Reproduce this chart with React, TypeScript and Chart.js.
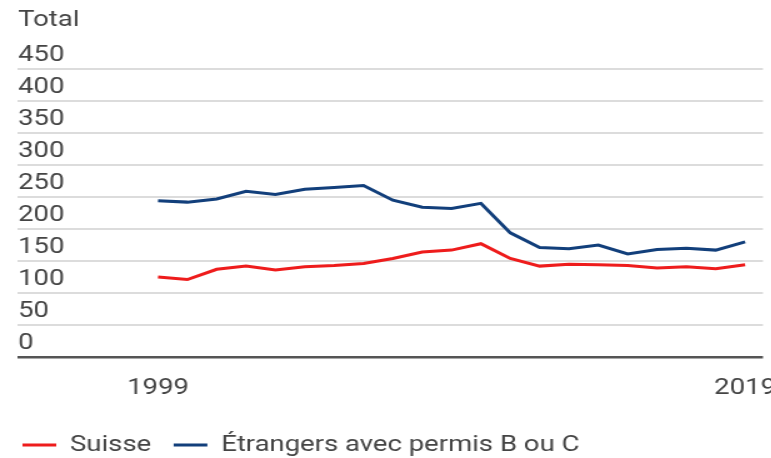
import React, { useEffect, useRef } from "react";
import { Chart, registerables } from "chart.js";

Chart.register(...registerables);

// ---- data ----
const years = [1999, 2000, 2001, 2002, 2003, 2004, 2005, 2006, 2007, 2008, 2009, 2010, 2011, 2012, 2013, 2014, 2015, 2016, 2017, 2018, 2019];
const suisse = [125, 121, 137, 142, 136, 141, 143, 146, 154, 164, 167, 177, 154, 142, 145, 144, 143, 139, 141, 138, 144];
const etrangers = [244, 242, 247, 259, 254, 262, 265, 268, 245, 234, 232, 240, 194, 171, 169, 175, 161, 168, 170, 167, 180];
const xTickYears = [1999, 2019];
const yTickValues = [0, 50, 100, 150, 200, 250, 300, 350, 400, 450];
const seriesLabels = ["Suisse", "Étrangers avec permis B ou C"];
const axisTitle = "Total";

const RED = "#ee1c1c";
const BLUE = "#123f7b";
const TEXT = "#444444";

// horizontal stretch of the reference picture
const S = 1.25;
const W = 650;
const H = 466;
const AREA_LEFT = 18 / S;
const AREA_RIGHT = 763 / S;

export default function App() {
  const ref = useRef<HTMLCanvasElement>(null);

  useEffect(() => {
    if (!ref.current) return;
    const font = { family: "Roboto", size: 22, weight: "normal" as const };
    const chart = new Chart(ref.current, {
      type: "line",
      data: {
        datasets: [
          {
            label: seriesLabels[0],
            data: years.map((x, i) => ({ x, y: suisse[i] })),
            borderColor: RED,
            backgroundColor: RED,
            borderWidth: 3,
            pointRadius: 0,
            tension: 0,
          },
          {
            label: seriesLabels[1],
            data: years.map((x, i) => ({ x, y: etrangers[i] })),
            borderColor: BLUE,
            backgroundColor: BLUE,
            borderWidth: 3,
            pointRadius: 0,
            tension: 0,
          },
        ],
      },
      options: {
        animation: false,
        responsive: false,
        maintainAspectRatio: false,
        layout: { padding: { left: 0, right: W - AREA_RIGHT, top: 0, bottom: 0 } },
        scales: {
          x: {
            type: "linear",
            min: 1994.23,
            max: 2019.61,
            grid: { display: false },
            border: { display: false },
            afterBuildTicks: (s: any) => {
              s.ticks = xTickYears.map((v) => ({ value: v }));
            },
            afterFit: (s: any) => {
              s.height = 59;
            },
            ticks: {
              font,
              color: TEXT,
              padding: 10,
              maxRotation: 0,
              autoSkip: false,
              callback: (v: any) => String(v),
            },
          },
          y: {
            min: 0,
            max: 450,
            afterBuildTicks: (s: any) => {
              s.ticks = yTickValues.map((v) => ({ value: v }));
            },
            afterFit: (s: any) => {
              s.width = AREA_LEFT;
            },
            border: { display: false },
            grid: {
              drawTicks: false,
              color: (c: any) => (c.tick && c.tick.value === 0 ? "#555555" : "#dcdcdc"),
              lineWidth: (c: any) => (c.tick && c.tick.value === 0 ? 2.5 : 2),
            },
            ticks: {
              mirror: true,
              padding: 0,
              labelOffset: -14,
              font,
              color: TEXT,
              callback: (v: any) => String(v),
            },
          },
        },
        plugins: {
          title: {
            display: true,
            text: axisTitle,
            align: "start",
            fullSize: false,
            font,
            color: TEXT,
            padding: { top: 7, bottom: 35.6 },
          },
          legend: {
            position: "bottom",
            align: "start",
            labels: {
              usePointStyle: true,
              pointStyle: "line",
              pointStyleWidth: 27,
              padding: 18,
              font,
              color: TEXT,
            },
          },
          tooltip: { enabled: false },
        },
      },
    } as any);
    return () => chart.destroy();
  }, []);

  return (
    <div
      style={{
        position: "fixed",
        left: 0,
        top: 0,
        width: 771,
        height: 458,
        overflow: "hidden",
        background: "#ffffff",
      }}
    >
      <div
        style={{
          width: W,
          height: H,
          transform: `scaleX(${S})`,
          transformOrigin: "0 0",
        }}
      >
        <canvas ref={ref} width={W} height={H} style={{ display: "block" }} />
      </div>
    </div>
  );
}
